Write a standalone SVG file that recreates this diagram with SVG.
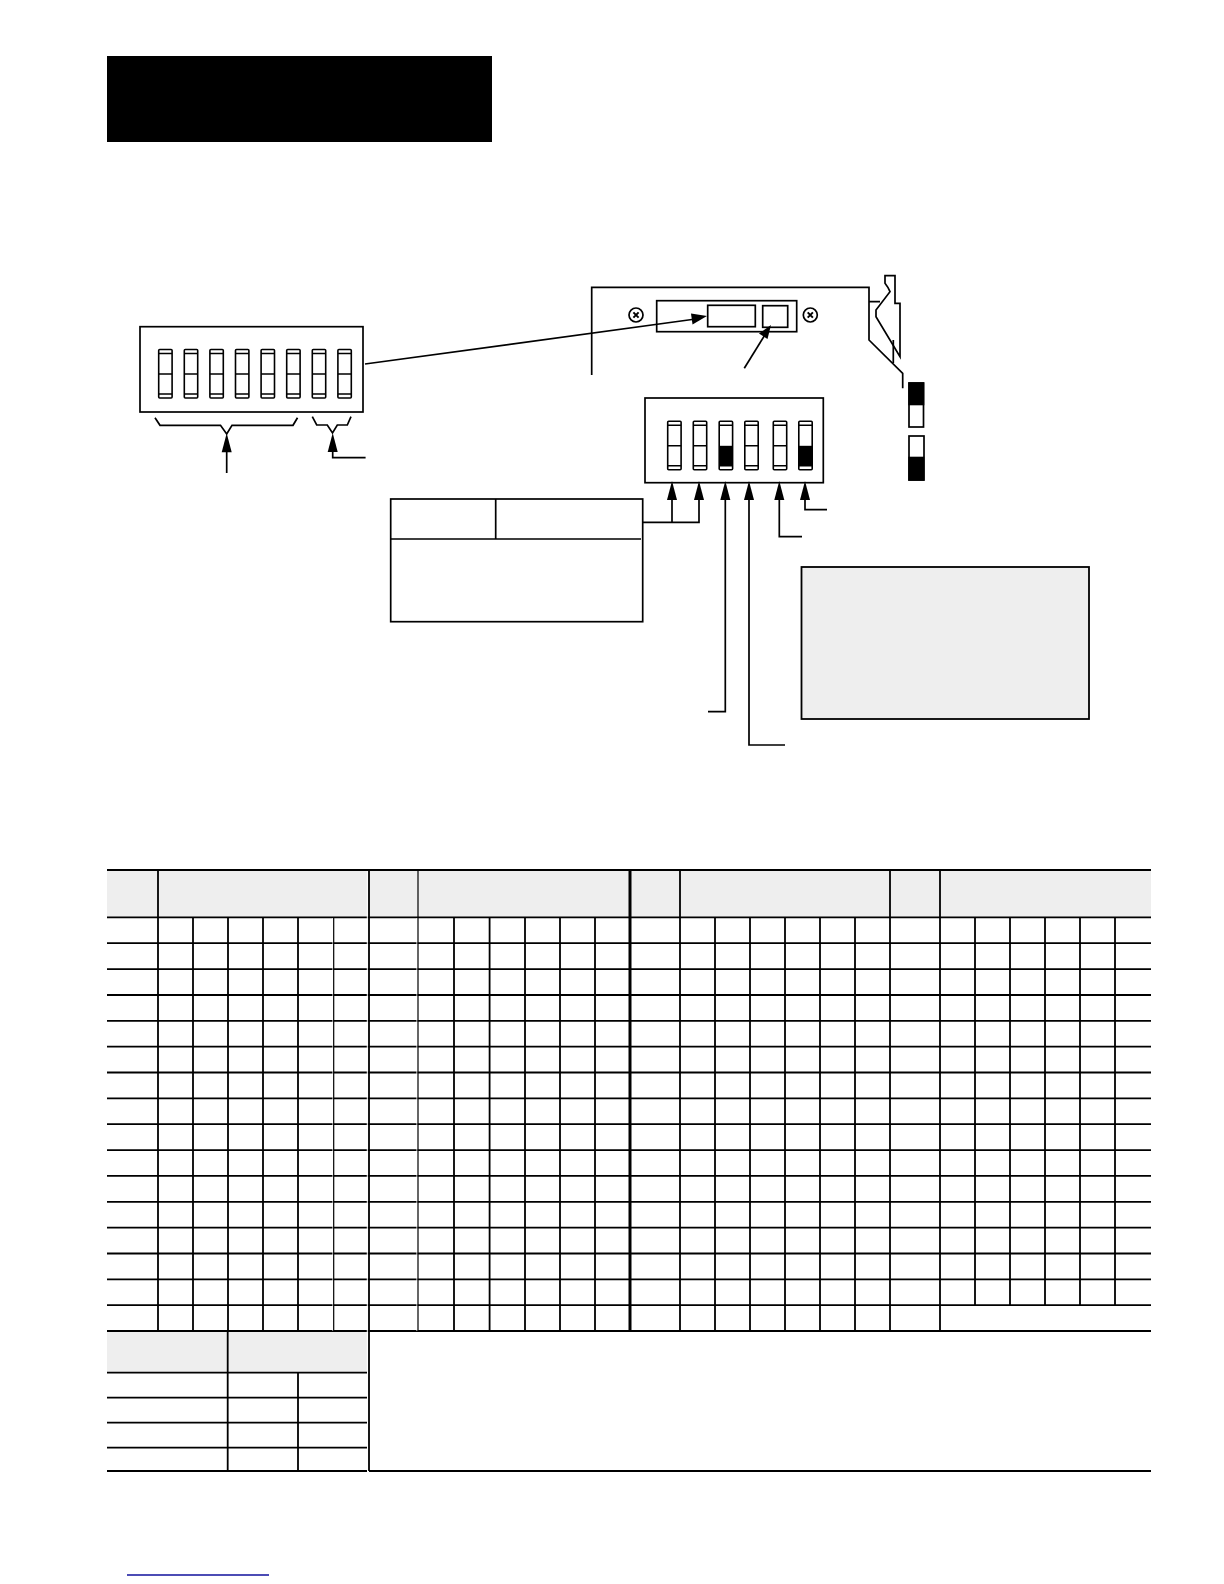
<svg xmlns="http://www.w3.org/2000/svg" width="1224" height="1584" viewBox="0 0 1224 1584">
<style>
.l{fill:none;stroke:#000;stroke-width:1.7}
.b{fill:#fff;stroke:#000;stroke-width:1.7}
.g{fill:#eee;stroke:none}
.k{fill:#000;stroke:none}
.t{fill:none;stroke:#000;stroke-width:1.8}
.w{fill:none;stroke:#fff;stroke-width:1}
.sw{fill:none;stroke:#000;stroke-width:1.6}
</style>
<defs>
<g id="switch"><rect class="sw" x="0" y="0" width="13.4" height="48.5" rx="1"/><path class="sw" d="M0 4H13.4M0 24.5H13.4M0 44.5H13.4"/></g>
<g id="switchOn"><rect class="sw" x="0" y="0" width="13.4" height="48.5" rx="1"/><path class="sw" d="M0 4H13.4M0 44.5H13.4"/><rect class="k" x="0" y="24.5" width="13.4" height="20"/></g>
<g id="screw"><circle class="l" r="7" cx="0" cy="0"/><path d="M-2.6-2.6L2.6 2.6M2.6-2.6L-2.6 2.6" fill="none" stroke="#000" stroke-width="2"/></g>
<g id="head"><path class="k" d="M0 0L5 19H-5Z"/></g>
</defs>
<rect width="1224" height="1584" fill="#fff"/>
<rect id="title-bar" class="k" x="107" y="56" width="385" height="86"/>

<g id="dip-8">
<rect class="b" x="140" y="326.7" width="223" height="85.3"/>
<use href="#switch" x="158.7" y="349.5"/><use href="#switch" x="184.3" y="349.5"/><use href="#switch" x="209.9" y="349.5"/><use href="#switch" x="235.5" y="349.5"/><use href="#switch" x="261.1" y="349.5"/><use href="#switch" x="286.7" y="349.5"/><use href="#switch" x="312.3" y="349.5"/><use href="#switch" x="337.9" y="349.5"/>
</g>

<g id="module">
<path class="l" d="M591.7 375V287.3H869V340L902.7 373.3V388.3"/>
<path class="l" d="M869 301.7H880M893.3 340V363"/>
<path class="l" d="M885 283.3V275.7H895V303.3H900V356.7L876 316.7V310L890 291.7Q888 287 885 283.3Z"/>
<use href="#screw" x="636" y="315"/><use href="#screw" x="810.3" y="315"/>
<rect class="b" x="656.7" y="300.7" width="140" height="31"/>
<rect class="b" x="707.7" y="305.3" width="47.6" height="21.4"/>
<rect class="b" x="762.7" y="305.7" width="25" height="21.6"/>
</g>

<g id="dip-6">
<rect class="b" x="645" y="398" width="178.3" height="84.7"/>
<use href="#switch" x="667.7" y="421.3"/><use href="#switch" x="693.3" y="421.3"/><use href="#switchOn" x="719.2" y="421.3"/><use href="#switch" x="744.8" y="421.3"/><use href="#switch" x="773.3" y="421.3"/><use href="#switchOn" x="798.8" y="421.3"/>
</g>

<g id="indicator-up"><rect class="b" x="909" y="383" width="14.5" height="44"/><rect class="k" x="908.3" y="382.3" width="16" height="23"/></g>
<g id="indicator-down"><rect class="b" x="909" y="436" width="15" height="44"/><rect class="k" x="908.3" y="456.7" width="16" height="24"/></g>

<g id="settings-box">
<rect class="b" x="390.7" y="499" width="252" height="122.7"/>
<path class="l" d="M495.7 499V539M390.7 539H641"/>
</g>
<rect id="note-box" x="801.5" y="567" width="287.5" height="152" fill="#eee" stroke="#000" stroke-width="1.8"/>

<g id="connectors">
<path class="l" d="M365 364L692 319.5"/>
<path class="k" d="M707 316L691 313.5L692.5 324.5Z"/>
<path class="l" d="M744.3 368.3L766 333"/>
<path class="k" d="M771 325L759 333.5L767.5 339Z"/>
<path class="l" d="M155 417.7L160 425.3H220.5L226.7 434L232 425.3H293L297.5 417.7"/>
<path class="l" d="M226.7 450V473"/><use href="#head" x="226.7" y="433.3"/>
<path class="l" d="M312.3 416.7L316.7 425H327.3L332.5 433L337.3 425H347.3L351 416.7"/>
<path class="l" d="M332.7 450V457.7H365.6"/><use href="#head" x="332.7" y="433"/>
<path class="l" d="M642.7 522.3H699V498M672 498V522.3"/>
<use href="#head" x="672" y="481"/><use href="#head" x="699" y="481"/>
<path class="l" d="M725.3 498V711.7H708"/><use href="#head" x="725.3" y="481"/>
<path class="l" d="M749 498V745H785"/><use href="#head" x="749" y="481"/>
<path class="l" d="M779.3 498V536.7H802"/><use href="#head" x="779.3" y="481"/>
<path class="l" d="M805 498V509.7H827"/><use href="#head" x="805" y="481"/>
</g>

<g id="address-table">
<rect class="g" x="107" y="870" width="1044" height="47"/>
<rect class="g" x="107" y="1331" width="260" height="42"/>
<path class="t" d="M107 870H1151M107 917.4H1151M107 943.2H1151M107 969.1H1151M107 995H1151M107 1020.8H1151M107 1046.7H1151M107 1072.5H1151M107 1098.4H1151M107 1124.2H1151M107 1150.1H1151M107 1175.9H1151M107 1201.8H1151M107 1227.6H1151M107 1253.5H1151M107 1279.3H1151M107 1305.2H1151M107 1331H1151"/>
<path class="w" d="M333 918V1331M417 918V1331M367.3 871V1471"/>
<path class="t" d="M158 870V1331M369 870V1471M680 870V1331M890 870V1331M940 870V1331"/>
<path class="t" d="M193 917V1331M228 917V1331M263 917V1331M298 917V1331M454 917V1331M489.6 917V1331M525 917V1331M560 917V1331M595 917V1331M715 917V1331M750 917V1331M785 917V1331M820 917V1331M855 917V1331M975 917V1305M1010 917V1305M1045 917V1305M1080 917V1305M1115 917V1305"/>
<path d="M333.7 917V1331M418 870V1331" fill="none" stroke="#000" stroke-width="1.2"/>
<path d="M630 870V1331" fill="none" stroke="#000" stroke-width="3"/>
<path class="t" d="M107 1372.7H367M107 1397.7H367M107 1422.7H367M107 1447.7H367M107 1471H367M369 1471H1151M227.7 1331V1471M298 1372.7V1471"/>
</g>
<rect id="footer-rule" x="127" y="1574.3" width="142" height="1.4" fill="#000096"/>
</svg>
